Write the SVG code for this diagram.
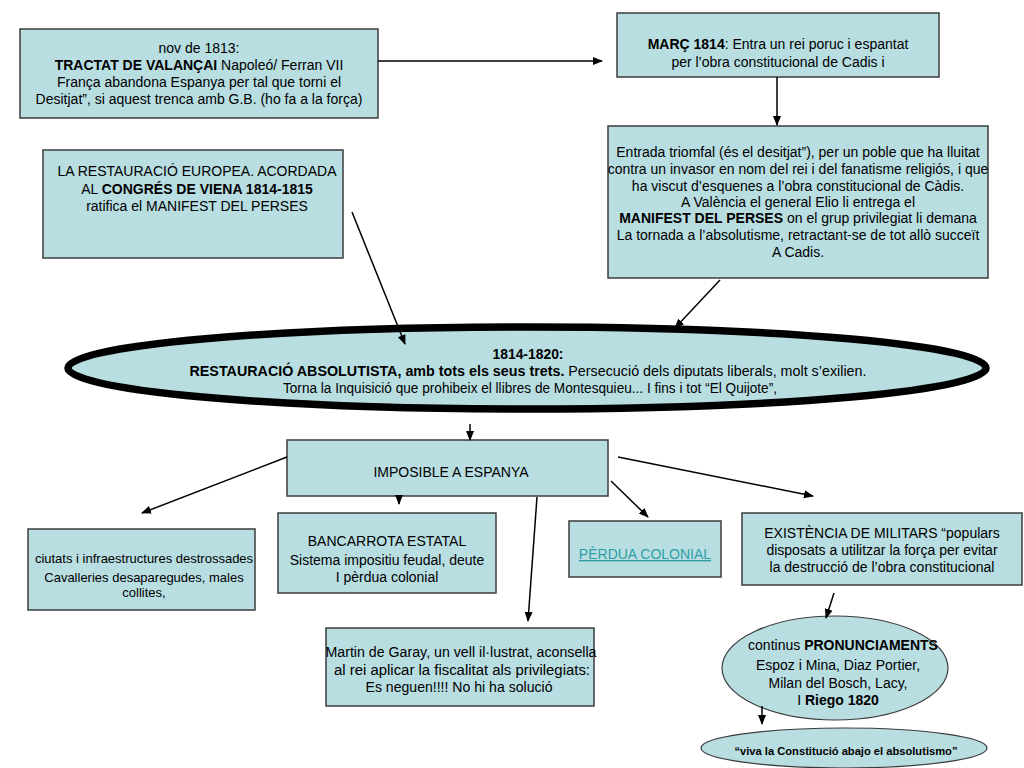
<svg xmlns="http://www.w3.org/2000/svg" width="1024" height="768" viewBox="0 0 1024 768">
<defs>
<style>
.box{fill:#b8dee2;stroke:#3c3c3c;stroke-width:1.5}
.ell{fill:#b8dee2;stroke:#3c3c3c;stroke-width:1.2}
text{font-family:"Liberation Sans",Arial,sans-serif;font-size:14px;fill:#000;text-anchor:middle}
.b{font-weight:bold}
.con line{stroke:#000;stroke-width:1.5;marker-end:url(#ah)}
</style>
<marker id="ah" markerUnits="userSpaceOnUse" markerWidth="10" markerHeight="10" viewBox="0 0 10 10" refX="9" refY="5" orient="auto">
<path d="M0,1 L10,5 L0,9 Z" fill="#000"/>
</marker>
</defs>
<rect width="1024" height="768" fill="#fff"/>

<g id="tractat">
<rect class="box" x="20" y="29" width="358" height="89"/>
<text x="199" y="53">nov de 1813:</text>
<text x="199" y="70"><tspan class="b">TRACTAT DE VALANÇAI</tspan> Napoleó/ Ferran VII</text>
<text x="199" y="87">França abandona Espanya per tal que torni el</text>
<text x="199" y="104">Desitjat”, si aquest trenca amb G.B. (ho fa a la força)</text>
</g>

<g id="restauracio-europea">
<rect class="box" x="43" y="150" width="300" height="108"/>
<text x="197" y="176">LA RESTAURACIÓ EUROPEA. ACORDADA</text>
<text x="197" y="194">AL <tspan class="b">CONGRÉS DE VIENA 1814-1815</tspan></text>
<text x="197" y="211">ratifica el MANIFEST DEL PERSES</text>
</g>

<g id="marc">
<rect class="box" x="617" y="13" width="322" height="64"/>
<text x="778" y="49"><tspan class="b">MARÇ 1814</tspan>: Entra un rei poruc i espantat</text>
<text x="778" y="67">per l’obra constitucional de Cadis i</text>
</g>

<g id="entrada">
<rect class="box" x="608" y="126" width="380" height="152"/>
<text x="798" y="157">Entrada triomfal (és el desitjat”), per un poble que ha lluitat</text>
<text x="798" y="174">contra un invasor en nom del rei i del fanatisme religiós, i que</text>
<text x="798" y="191">ha viscut d’esquenes a l’obra constitucional de Càdis.</text>
<text x="798" y="207">A València el general Elio li entrega el</text>
<text x="798" y="223"><tspan class="b">MANIFEST DEL PERSES</tspan> on el grup privilegiat li demana</text>
<text x="798" y="240">La tornada a l’absolutisme, retractant-se de tot allò succeït</text>
<text x="798" y="257">A Cadis.</text>
</g>

<g id="restauracio-absolutista">
<ellipse cx="527" cy="368" rx="459" ry="41" fill="#b8dee2" stroke="#000" stroke-width="7.5"/>
<text x="528" y="359" class="b" textLength="71" lengthAdjust="spacingAndGlyphs">1814-1820:</text>
<text x="528" y="376" textLength="677" lengthAdjust="spacingAndGlyphs"><tspan class="b">RESTAURACIÓ ABSOLUTISTA, amb tots els seus trets.</tspan>  Persecució dels diputats liberals, molt s’exilien.</text>
<text x="530" y="393" textLength="494" lengthAdjust="spacingAndGlyphs">Torna la Inquisició que prohibeix el llibres de Montesquieu... I fins i tot “El Quijote”,</text>
</g>

<g id="imposible">
<rect class="box" x="287" y="440" width="321" height="56"/>
<text x="451" y="477">IMPOSIBLE A ESPANYA</text>
</g>

<g id="ciutats">
<rect class="box" x="28" y="529" width="227" height="81"/>
<text x="144" y="563" style="font-size:13px">ciutats i infraestructures destrossades</text>
<text x="144" y="582" style="font-size:13px">Cavalleries desaparegudes, males</text>
<text x="144" y="597" style="font-size:13px">collites,</text>
</g>

<g id="bancarrota">
<rect class="box" x="278" y="513" width="218" height="80"/>
<text x="387" y="546">BANCARROTA ESTATAL</text>
<text x="387" y="565">Sistema impositiu feudal, deute</text>
<text x="387" y="582">I pèrdua colonial</text>
</g>

<g id="perdua">
<rect class="box" x="569" y="521" width="152" height="56"/>
<text x="645" y="559" style="fill:#2f9ea6;text-decoration:underline">PÈRDUA COLONIAL</text>
</g>

<g id="existencia">
<rect class="box" x="742" y="513" width="280" height="72"/>
<text x="882" y="538">EXISTÈNCIA DE MILITARS “populars</text>
<text x="882" y="555">disposats a utilitzar la força per evitar</text>
<text x="882" y="572">la destrucció de l’obra constitucional</text>
</g>

<g id="martin">
<rect class="box" x="326" y="628" width="268" height="78"/>
<text x="461" y="657" textLength="271" lengthAdjust="spacingAndGlyphs">Martin de Garay, un vell il·lustrat, aconsella</text>
<text x="462" y="675" textLength="256" lengthAdjust="spacingAndGlyphs">al rei  aplicar la fiscalitat als privilegiats:</text>
<text x="459" y="692" textLength="187" lengthAdjust="spacingAndGlyphs">Es neguen!!!! No hi ha solució</text>
</g>

<g id="pronunciaments">
<ellipse class="ell" cx="835" cy="668" rx="113" ry="52"/>
<text x="843" y="650"><tspan>continus </tspan><tspan class="b">PRONUNCIAMENTS</tspan></text>
<text x="838" y="670">Espoz i Mina, Diaz Portier,</text>
<text x="838" y="688">Milan del Bosch, Lacy,</text>
<text x="838" y="705">I <tspan class="b">Riego 1820</tspan></text>
</g>

<g id="viva">
<ellipse class="ell" cx="844" cy="748" rx="143" ry="20"/>
<text x="846" y="755" class="b" style="font-size:11px" textLength="223" lengthAdjust="spacingAndGlyphs">“viva la Constitució abajo el absolutismo”</text>
</g>

<g id="connectors" class="con">
<line x1="378" y1="61" x2="602" y2="61"/>
<line x1="777" y1="77" x2="777" y2="125"/>
<line x1="352" y1="212" x2="405" y2="344"/>
<line x1="720" y1="280" x2="675" y2="328"/>
<line x1="470" y1="424" x2="470" y2="440"/>
<line x1="399" y1="496" x2="399" y2="504"/>
<line x1="287" y1="457" x2="142" y2="513"/>
<line x1="537" y1="497" x2="528" y2="621"/>
<line x1="611" y1="481" x2="648" y2="517"/>
<line x1="618" y1="457" x2="813" y2="496"/>
<line x1="834" y1="593" x2="826" y2="618"/>
<line x1="762" y1="706" x2="762" y2="724"/>
</g>
</svg>
